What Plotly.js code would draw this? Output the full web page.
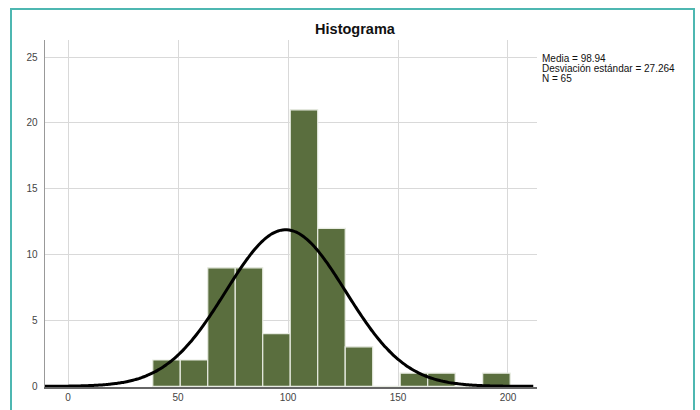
<!DOCTYPE html>
<html>
<head>
<meta charset="utf-8">
<script src="https://cdn.plot.ly/plotly-3.0.1.min.js"></script>
<style>
  html, body { margin:0; padding:0; background:#fff; }
  #wrap { position:relative; width:700px; height:410px; overflow:hidden; }
  #chart { position:absolute; left:0; top:0; width:700px; height:410px; }
  #frame { position:absolute; left:10px; top:8px; width:681px; height:430px; border:2px solid #4db7b1; pointer-events:none; }
</style>
</head>
<body>
<div id="wrap">
  <div id="chart"></div>
  <div id="frame"></div>
</div>
<script>
// Histogram bins (lower edges) and counts
const binStart = 38.5;
const binWidth = 12.5;
const counts = [2, 2, 9, 9, 4, 21, 12, 3, 0, 1, 1, 0, 1];
// Summary statistics shown in the chart
const media = 98.94;
const desviacion = 27.264;
const n = 65;
const xTicks = [0, 50, 100, 150, 200];
const yTicks = [0, 5, 10, 15, 20, 25];
const statLines = [
  'Media = ' + media.toFixed(2),
  'Desviación estándar = ' + desviacion.toFixed(3),
  'N = ' + n
];

const centers = counts.map((c, i) => binStart + binWidth * (i + 0.5));

// Normal curve defined by the stated mean / sd, scaled to counts
const curveX = [];
const curveY = [];
for (let x = -10.5; x <= 212; x += 1) {
  curveX.push(x);
  const z = (x - media) / desviacion;
  curveY.push(n * binWidth / (desviacion * Math.sqrt(2 * Math.PI)) * Math.exp(-0.5 * z * z));
}

const traces = [
  {
    type: 'bar',
    x: centers,
    y: counts,
    width: binWidth,
    marker: { color: '#5a6e3e', line: { color: '#e8ece2', width: 1.2 } },
    hoverinfo: 'x+y'
  },
  {
    type: 'scatter',
    mode: 'lines',
    x: curveX,
    y: curveY,
    line: { color: '#000000', width: 3, shape: 'spline' },
    hoverinfo: 'skip'
  }
];

const statY = [0.946, 0.917, 0.888];

const layout = {
  width: 700,
  height: 410,
  margin: { l: 45, r: 163, t: 40, b: 23, pad: 0 },
  paper_bgcolor: '#ffffff',
  plot_bgcolor: '#ffffff',
  showlegend: false,
  bargap: 0,
  title: {
    text: '<b>Histograma</b>',
    font: { family: 'Liberation Sans, Arial, sans-serif', size: 14.5, color: '#111' },
    x: 0.63, xanchor: 'center', y: 0.93, yanchor: 'middle', xref: 'paper'
  },
  xaxis: {
    range: [-10.5, 213.2],
    tickvals: xTicks,
    ticktext: xTicks.map(String),
    showgrid: true,
    gridcolor: '#d9d9d9',
    gridwidth: 1,
    zeroline: false,
    showline: true,
    linecolor: '#666',
    linewidth: 1.5,
    ticks: '',
    tickfont: { family: 'Liberation Sans, Arial, sans-serif', size: 10, color: '#444' },
    fixedrange: true
  },
  yaxis: {
    range: [-0.05, 26.3],
    tickvals: yTicks,
    ticktext: yTicks.map(String),
    showgrid: true,
    gridcolor: '#d9d9d9',
    gridwidth: 1,
    zeroline: false,
    showline: true,
    linecolor: '#999',
    linewidth: 1.5,
    ticks: '',
    ticklabelstandoff: 4,
    tickfont: { family: 'Liberation Sans, Arial, sans-serif', size: 10, color: '#444' },
    fixedrange: true
  },
  annotations: statLines.map((t, i) => ({
    xref: 'paper', yref: 'paper',
    x: 1.006, y: statY[i], xanchor: 'left', yanchor: 'middle',
    align: 'left', showarrow: false,
    text: t,
    font: { family: 'Liberation Sans, Arial, sans-serif', size: 10, color: '#111' }
  }))
};

Plotly.newPlot('chart', traces, layout, { displayModeBar: false, staticPlot: true });
</script>
</body>
</html>
